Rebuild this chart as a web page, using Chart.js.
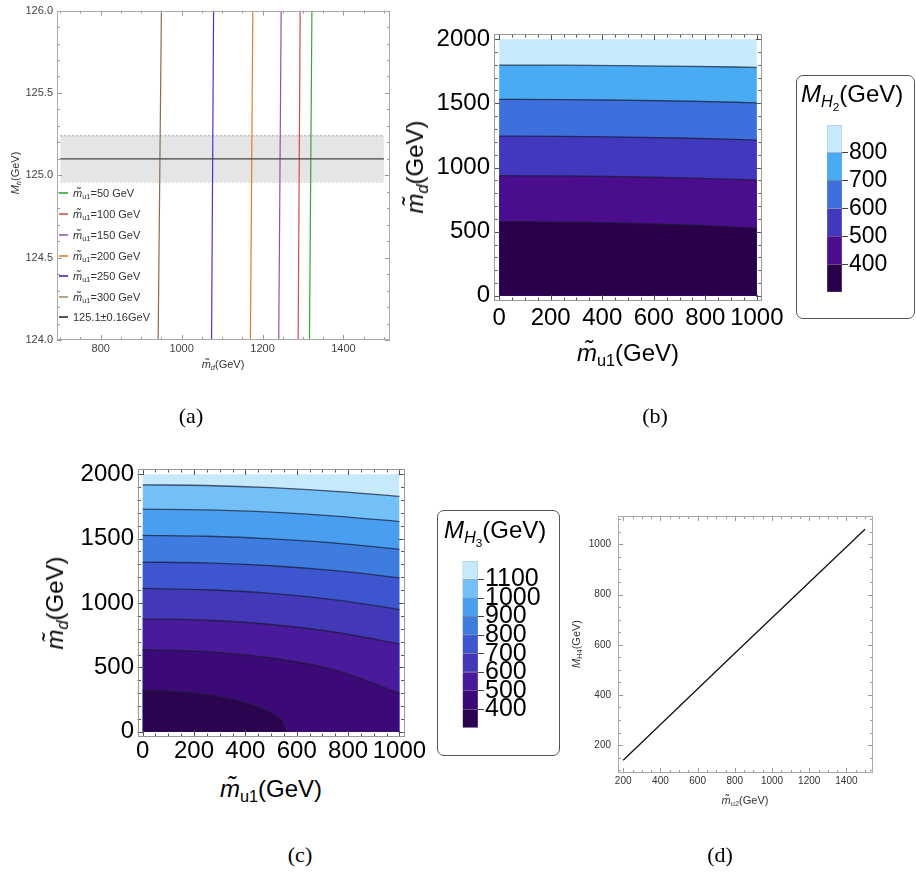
<!DOCTYPE html>
<html><head><meta charset="utf-8">
<script src="https://cdn.jsdelivr.net/npm/chart.js@4.4.1/dist/chart.umd.min.js"></script>
<style>
body{margin:0;background:#fff;width:916px;height:873px;position:relative;overflow:hidden;font-family:"Liberation Sans",Arial,sans-serif;}
canvas{position:absolute;}
.t{position:absolute;white-space:nowrap;line-height:1;color:#000;}
.rot{transform:translate(-50%,-50%) rotate(-90deg);}
.ctr{transform:translate(-50%,-50%);}
.s1{font-size:0.68em;position:relative;top:0.32em;}
.s2{font-size:0.72em;position:relative;top:0.3em;}
.box{position:absolute;border:1px solid #555;border-radius:7px;}
.lab{position:absolute;font-family:"Liberation Serif",serif;font-size:22px;transform:translate(-50%,-50%);line-height:1;}
.leg{position:absolute;font-size:11px;color:#333;line-height:1;white-space:nowrap;}
.leg .sw{display:inline-block;width:9px;height:2px;vertical-align:middle;margin-right:5px;position:relative;top:-1px;}
</style></head>
<body>
<canvas id="ca" width="400" height="380" style="left:0;top:0"></canvas>
<canvas id="cb" width="370" height="340" style="left:430px;top:0"></canvas>
<canvas id="cbl" width="96" height="200" style="left:820px;top:110px"></canvas>
<canvas id="cc" width="370" height="330" style="left:70px;top:440px"></canvas>
<canvas id="ccl" width="100" height="200" style="left:455px;top:545px"></canvas>
<canvas id="cd" width="320" height="300" style="left:580px;top:500px"></canvas>

<!-- panel (a) texts -->
<div class="t rot" style="left:15px;top:173px;font-size:11px;color:#333"><i>M</i><span class="s1"><i>h</i></span>(GeV)</div>
<div class="t ctr" style="left:223px;top:364px;font-size:11px;color:#333"><i>m&#771;</i><span class="s1"><i>d</i></span>(GeV)</div>
<div id="legA"></div>
<div class="lab" style="left:191px;top:416px">(a)</div>

<!-- panel (b) texts -->
<div class="t rot" style="left:415px;top:167px;font-size:24px"><i>m&#771;</i><span class="s1"><i>d</i></span>(GeV)</div>
<div class="t ctr" style="left:628px;top:353px;font-size:24px"><i>m&#771;</i><span class="s1">u1</span>(GeV)</div>
<div class="box" style="left:796px;top:75px;width:117px;height:242px"></div>
<div class="t" style="left:801px;top:82px;font-size:24px"><i>M</i><span class="s1"><i>H</i><span class="s2">2</span></span>(GeV)</div>
<div class="lab" style="left:655px;top:416px">(b)</div>

<!-- panel (c) texts -->
<div class="t rot" style="left:55px;top:603px;font-size:24px"><i>m&#771;</i><span class="s1"><i>d</i></span>(GeV)</div>
<div class="t ctr" style="left:271px;top:789px;font-size:24px"><i>m&#771;</i><span class="s1">u1</span>(GeV)</div>
<div class="box" style="left:437px;top:510px;width:121px;height:244px"></div>
<div class="t" style="left:444px;top:518px;font-size:24px"><i>M</i><span class="s1"><i>H</i><span class="s2">3</span></span>(GeV)</div>
<div class="lab" style="left:300px;top:855px">(c)</div>

<!-- panel (d) texts -->
<div class="t rot" style="left:576px;top:644px;font-size:11px;color:#333"><i>M</i><span class="s1">H4</span>(GeV)</div>
<div class="t ctr" style="left:745px;top:800px;font-size:11px;color:#333"><i>m&#771;</i><span class="s1">u2</span>(GeV)</div>
<div class="lab" style="left:720px;top:855px">(d)</div>

<script>
// ---------- DATA ----------
// (a) Higgs mass vs m_d for several m_u1
const aMu1 = [50, 100, 150, 200, 250, 300];
const aMdAt124 = [1316, 1288, 1240, 1170, 1074, 942];
const aMdAt126 = [1322, 1293, 1246, 1176, 1079, 950];
const aMhEnds = [124, 126];
const aColors = ['#3aa63a', '#d64a4a', '#9a4fa8', '#d9822b', '#3b3bd6', '#8c6d4f'];
const aLegColors = ['#5cb85c', '#d97474', '#a87ab8', '#de9a55', '#5555d8', '#b8a48e'];
const aBandX = [700, 1500];
const aBandY = [124.96, 125.24];
const aCentral = 125.1;
const aXTicks = [800, 1000, 1200, 1400];
const aYTicks = [124.0, 124.5, 125.0, 125.5, 126.0];

// (b) M_H2 contours: m_d value of each contour line at m_u1 grid
const mu1Grid = [0, 250, 500, 750, 1000];
const h2Levels = [400, 500, 600, 700, 800];
const h2_400 = [578, 575, 566, 550, 527];
const h2_500 = [936, 934, 928, 918, 903];
const h2_600 = [1245, 1243, 1237, 1228, 1214];
const h2_700 = [1531, 1529, 1524, 1516, 1504];
const h2_800 = [1798, 1797, 1793, 1788, 1780];
const h2Colors = ['#2b004b', '#4a0d8d', '#4138be', '#3d6fdd', '#4aabf5', '#c6eafb'];
const h2BarEdges = [300, 400, 500, 600, 700, 800, 900];

// (c) M_H3 contours
const h3Levels = [400, 500, 600, 700, 800, 900, 1000, 1100];
const h3_400_x = [0, 150, 300, 400, 500, 540, 560];
const h3_400_y = [321, 309, 271, 225, 145, 85, 0];
const h3_500 = [638, 622, 573, 479, 301];
const h3_600 = [877, 866, 833, 773, 682];
const h3_700 = [1113, 1103, 1074, 1024, 949];
const h3_800 = [1318, 1311, 1289, 1251, 1196];
const h3_900 = [1525, 1518, 1498, 1465, 1416];
const h3_1000 = [1728, 1722, 1705, 1675, 1632];
const h3_1100 = [1917, 1912, 1895, 1867, 1827];
const h3Colors = ['#2a044f', '#3b0a77', '#4a1a9c', '#4238b8', '#3d55cf', '#3f7ce0', '#4a9ef0', '#73c0f8', '#c6eafb'];
const h3BarEdges = [300, 400, 500, 600, 700, 800, 900, 1000, 1100, 1200];

const contourXTicks = [0, 200, 400, 600, 800, 1000];
const contourYTicks = [0, 500, 1000, 1500, 2000];
const mdTop = 2000;

// (d) M_H4 vs m_u2
const dMu2 = [200, 800, 1500];
const dMH4 = [140, 566, 1060];
const dXTicks = [200, 400, 600, 800, 1000, 1200, 1400];
const dYTicks = [200, 400, 600, 800, 1000];

// ---------- helpers ----------
Chart.defaults.font.family = '"Liberation Sans", Arial, sans-serif';
const plain = v => String(v);
const frameTicks = {
  id: 'frameTicks',
  afterDraw(chart, args, o) {
    if (!o || !o.on) return;
    const c = chart.ctx, a = chart.chartArea, sx = chart.scales.x, sy = chart.scales.y;
    c.save();
    c.lineWidth = 1;
    c.strokeStyle = o.tickColor;
    const iter = (sc, maj, mn, fn) => {
      const start = Math.ceil(sc.min / mn - 1e-9);
      for (let k = start; k * mn <= sc.max + 1e-9; k++) {
        const v = k * mn;
        const r = v / maj;
        fn(sc.getPixelForValue(v), Math.abs(r - Math.round(r)) < 1e-6 ? o.majLen : o.minLen);
      }
    };
    c.beginPath();
    iter(sx, o.xMaj, o.xMin, (p, L) => { p = Math.round(p) + 0.5; c.moveTo(p, a.bottom); c.lineTo(p, a.bottom - L); c.moveTo(p, a.top); c.lineTo(p, a.top + L); });
    iter(sy, o.yMaj, o.yMin, (p, L) => { p = Math.round(p) + 0.5; c.moveTo(a.left, p); c.lineTo(a.left + L, p); c.moveTo(a.right, p); c.lineTo(a.right - L, p); });
    c.stroke();
    c.strokeStyle = o.frameColor;
    c.strokeRect(Math.round(a.left) + 0.5, Math.round(a.top) + 0.5, Math.round(a.right - a.left) - 1, Math.round(a.bottom - a.top) - 1);
    c.restore();
  }
};
Chart.register(frameTicks);

function linScale(min, max, ticks, fit, extra) {
  return Object.assign({
    type: 'linear', min: min, max: max,
    grid: { display: false, drawTicks: false },
    border: { display: false },
    afterBuildTicks: s => { s.ticks = ticks.map(v => ({ value: v })); },
    afterFit: fit
  }, extra);
}
const base = { responsive: false, animation: false, devicePixelRatio: 1, events: [] };

// ---------- (a) ----------
const aDatasets = [];
aDatasets.push({ data: [{ x: aBandX[0], y: aCentral }, { x: aBandX[1], y: aCentral }], borderColor: '#444', borderWidth: 1.1, fill: false, pointRadius: 0 });
aMu1.forEach((m, i) => {
  aDatasets.push({ data: [{ x: aMdAt124[i], y: aMhEnds[0] }, { x: aMdAt126[i], y: aMhEnds[1] }], borderColor: aColors[i], borderWidth: 1.2, fill: false, pointRadius: 0 });
});
aDatasets.push({ data: [{ x: aBandX[0], y: aBandY[1] }, { x: aBandX[1], y: aBandY[1] }], borderColor: '#999', borderDash: [2, 2], borderWidth: 1, fill: '+1', backgroundColor: '#e5e5e5', pointRadius: 0 });
aDatasets.push({ data: [{ x: aBandX[0], y: aBandY[0] }, { x: aBandX[1], y: aBandY[0] }], borderColor: '#999', borderDash: [2, 2], borderWidth: 1, fill: false, pointRadius: 0 });

new Chart(document.getElementById('ca'), {
  type: 'line',
  data: { datasets: aDatasets },
  options: Object.assign({}, base, {
    layout: { padding: { top: 6, right: 10, left: 0, bottom: 0 } },
    plugins: { legend: { display: false }, tooltip: { enabled: false },
      frameTicks: { on: true, xMaj: 200, xMin: 50, yMaj: 0.5, yMin: 0.1, majLen: 5, minLen: 3, tickColor: '#999', frameColor: '#aaa' } },
    scales: {
      x: linScale(692, 1515, aXTicks, s => { s.height = 40; }, { ticks: { padding: 2, color: '#444', font: { size: 11 }, autoSkip: false, maxRotation: 0, callback: plain } }),
      y: linScale(124, 126, aYTicks, s => { s.width = 57; }, { ticks: { padding: 4, color: '#444', font: { size: 11 }, autoSkip: false, callback: v => Number(v).toFixed(1) } })
    }
  })
});

// legend (a)
const legA = document.getElementById('legA');
const legY = [194, 215, 236, 257, 277, 298, 318];
aMu1.forEach((m, i) => {
  const d = document.createElement('div');
  d.className = 'leg';
  d.style.left = '59px'; d.style.top = (legY[i] - 6) + 'px';
  d.innerHTML = '<span class="sw" style="background:' + aLegColors[i] + '"></span><i>m&#771;</i><span class="s1">u1</span>=' + m + ' GeV';
  legA.appendChild(d);
});
(function () {
  const d = document.createElement('div');
  d.className = 'leg';
  d.style.left = '59px'; d.style.top = (legY[6] - 6) + 'px';
  d.innerHTML = '<span class="sw" style="background:#555"></span>' + aCentral + '\u00b10.16GeV';
  legA.appendChild(d);
})();

// ---------- contour builder ----------
function contourSets(lines, colors, xsList) {
  const sets = [];
  lines.forEach((ys, k) => {
    const xs = xsList[k];
    sets.push({
      data: xs.map((x, i) => ({ x: x, y: ys[i] })),
      fill: { value: 0 }, backgroundColor: colors[k],
      borderColor: 'rgba(25,25,45,0.7)', borderWidth: 1.3,
      pointRadius: 0, cubicInterpolationMode: 'monotone'
    });
  });
  sets.push({
    data: mu1Grid.map(x => ({ x: x, y: mdTop })),
    fill: { value: 0 }, backgroundColor: colors[lines.length],
    borderWidth: 0, pointRadius: 0
  });
  return sets;
}
function contourOptions(xFitH, yFitW, pad, xPad, yPad) {
  return Object.assign({}, base, {
    layout: { padding: pad },
    plugins: { legend: { display: false }, tooltip: { enabled: false },
      frameTicks: { on: true, xMaj: 200, xMin: 50, yMaj: 500, yMin: 100, majLen: 6, minLen: 3.5, tickColor: '#555', frameColor: '#999' } },
    scales: {
      x: linScale(-20, 1020, contourXTicks, s => { s.height = xFitH; }, { ticks: { padding: xPad, color: '#000', font: { size: 24 }, autoSkip: false, maxRotation: 0, callback: plain } }),
      y: linScale(-40, 2040, contourYTicks, s => { s.width = yFitW; }, { ticks: { padding: yPad, color: '#000', font: { size: 24 }, autoSkip: false, callback: plain } })
    }
  });
}
function colorbar(canvasId, edges, colors, levels, pad, yW, fontSize) {
  const sets = colors.map((c, i) => ({
    data: [[edges[i], edges[i + 1]]], backgroundColor: c,
    borderColor: 'rgba(60,60,80,0.45)', borderWidth: 0.6, borderSkipped: false,
    barPercentage: 1, categoryPercentage: 1
  }));
  new Chart(document.getElementById(canvasId), {
    type: 'bar',
    data: { labels: [''], datasets: sets },
    options: Object.assign({}, base, {
      layout: { padding: pad },
      plugins: { legend: { display: false }, tooltip: { enabled: false } },
      scales: {
        x: { display: false, stacked: true },
        y: {
          type: 'linear', position: 'right', min: edges[0], max: edges[edges.length - 1], stacked: false,
          grid: { drawOnChartArea: false, drawTicks: true, tickLength: 6, color: '#444' },
          border: { display: false },
          afterBuildTicks: s => { s.ticks = levels.map(v => ({ value: v })); },
          afterFit: s => { s.width = yW; },
          ticks: { padding: 1, color: '#000', font: { size: fontSize }, autoSkip: false, callback: plain }
        }
      }
    })
  });
}

// ---------- (b) ----------
new Chart(document.getElementById('cb'), {
  type: 'line',
  data: { datasets: contourSets([h2_400, h2_500, h2_600, h2_700, h2_800], h2Colors, [mu1Grid, mu1Grid, mu1Grid, mu1Grid, mu1Grid]) },
  options: contourOptions(39, 64, { top: 34, right: 38, left: 0, bottom: 0 }, 3, 4)
});
colorbar('cbl', h2BarEdges, h2Colors, h2Levels, { left: 7, top: 15, bottom: 18, right: 0 }, 74, 23);

// ---------- (c) ----------
new Chart(document.getElementById('cc'), {
  type: 'line',
  data: { datasets: contourSets([h3_400_y, h3_500, h3_600, h3_700, h3_800, h3_900, h3_1000, h3_1100], h3Colors,
    [h3_400_x, mu1Grid, mu1Grid, mu1Grid, mu1Grid, mu1Grid, mu1Grid, mu1Grid]) },
  options: contourOptions(33, 67.5, { top: 29, right: 35.4, left: 0, bottom: 0 }, 0, 3.5)
});
colorbar('ccl', h3BarEdges, h3Colors, h3Levels, { left: 7.5, top: 16, bottom: 17.3, right: 0 }, 77, 25);

// ---------- (d) ----------
new Chart(document.getElementById('cd'), {
  type: 'line',
  data: { datasets: [{ data: dMu2.map((x, i) => ({ x: x, y: dMH4[i] })), borderColor: '#111', borderWidth: 1.3, fill: false, pointRadius: 0 }] },
  options: Object.assign({}, base, {
    layout: { padding: { top: 16, right: 27, left: 0, bottom: 0 } },
    plugins: { legend: { display: false }, tooltip: { enabled: false },
      frameTicks: { on: true, xMaj: 200, xMin: 50, yMaj: 200, yMin: 50, majLen: 5, minLen: 3, tickColor: '#999', frameColor: '#aaa' } },
    scales: {
      x: linScale(172, 1543, dXTicks, s => { s.height = 27; }, { ticks: { padding: 2, color: '#333', font: { size: 10 }, autoSkip: false, maxRotation: 0, callback: plain } }),
      y: linScale(89, 1113, dYTicks, s => { s.width = 38; }, { ticks: { padding: 7, color: '#333', font: { size: 10 }, autoSkip: false, callback: plain } })
    }
  })
});
</script>
</body></html>
